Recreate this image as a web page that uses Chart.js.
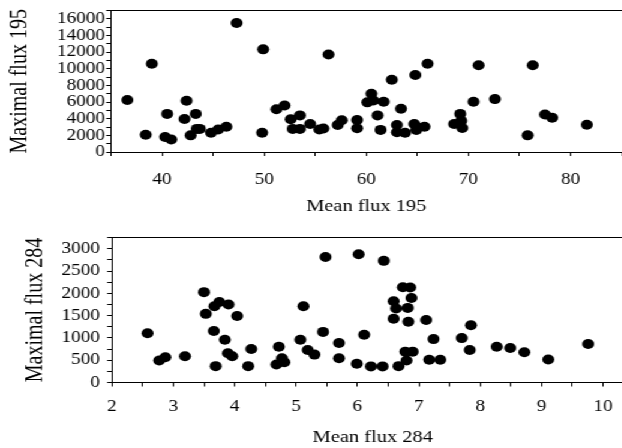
<!DOCTYPE html>
<html>
<head>
<meta charset="utf-8">
<script src="https://cdn.jsdelivr.net/npm/chart.js@4"></script>
<style>
  html, body { margin: 0; padding: 0; background: #fff; }
  body { width: 622px; height: 448px; overflow: hidden; position: relative; }
  /* the source figure is stretched horizontally, so stretch the canvases too */
  #wrap { position: absolute; left: 0; top: 0; transform: scaleX(1.2); transform-origin: 0 0; }
  canvas { display: block; }
</style>
</head>
<body>
<div id="wrap">
  <canvas id="chart195" width="532" height="222"></canvas>
  <canvas id="chart284" width="539" height="226"></canvas>
</div>
<script>
// Mean flux 195 vs maximal flux 195
const meanFlux195 = [36.6, 39.0, 38.4, 40.5, 40.3, 40.9, 42.4, 42.2, 43.3, 42.8,
  43.4, 43.7, 44.8, 45.5, 46.3, 47.3, 49.9, 49.8, 51.2, 52.0,
  52.6, 53.5, 52.8, 53.5, 54.5, 55.4, 55.8, 56.3, 57.2, 57.6,
  59.1, 59.1, 60.1, 60.5, 60.7, 61.1, 61.7, 61.4, 62.5, 63.4,
  63.0, 63.0, 63.8, 64.8, 66.0, 64.7, 65.0, 65.7, 64.9, 68.6,
  69.2, 69.3, 69.4, 70.5, 71.0, 72.6, 76.3, 75.8, 77.5, 78.2, 81.6];
const maxFlux195 = [6250, 10600, 2080, 4580, 1800, 1500, 6170, 3970, 4580, 2000,
  2780, 2780, 2310, 2700, 3040, 15500, 12340, 2310, 5130, 5590,
  3930, 4400, 2780, 2780, 3360, 2700, 2820, 11720, 3240, 3820,
  3850, 2850, 5970, 7010, 6200, 4400, 6050, 2660, 8680, 5210,
  3240, 2380, 2310, 9260, 10600, 3360, 2960, 3040, 2660, 3360,
  4580, 3740, 2890, 6050, 10420, 6360, 10420, 2000, 4510, 4120, 3280];

// Mean flux 284 vs maximal flux 284
const meanFlux284 = [2.58, 2.77, 2.87, 3.19, 3.50, 3.53, 3.67, 3.75, 3.90, 4.04,
  3.66, 3.84, 3.69, 3.89, 3.96, 4.27, 4.22, 4.68, 4.72, 4.77,
  4.81, 5.07, 5.12, 5.19, 5.30, 5.44, 5.48, 5.70, 5.70, 6.02,
  6.11, 5.99, 6.22, 6.41, 6.43, 6.74, 6.86, 6.88, 6.59, 6.63,
  6.82, 6.59, 6.83, 7.12, 6.78, 6.90, 6.80, 6.67, 7.24, 7.17,
  7.35, 7.70, 7.85, 7.83, 8.27, 8.49, 8.72, 9.11, 9.76];
const maxFlux284 = [1106, 493, 566, 589, 2027, 1540, 1710, 1805, 1748, 1490,
  1157, 958, 367, 655, 589, 752, 367, 405, 803, 545,
  456, 958, 1710, 730, 626, 1135, 2816, 885, 545, 2876,
  1069, 420, 361, 361, 2728, 2137, 2130, 1894, 1821, 1659,
  1673, 1429, 1363, 1400, 692, 692, 493, 367, 973, 509,
  509, 996, 1283, 730, 803, 774, 677, 515, 863];

// labelled ticks (the other ticks are unlabelled minor ticks)
const xLabels195 = [40, 50, 60, 70, 80];
const yLabels195 = [0, 2000, 4000, 6000, 8000, 10000, 12000, 14000, 16000];
const xLabels284 = [2, 3, 4, 5, 6, 7, 8, 9, 10];
const yLabels284 = [0, 500, 1000, 1500, 2000, 2500, 3000];

const ink = '#000';
const fontFamily = '"Liberation Serif", "Times New Roman", serif';

function makeScatter(canvasId, cfg) {
    const points = cfg.xs.map((x, i) => ({ x: x, y: cfg.ys[i] }));
    return new Chart(document.getElementById(canvasId), {
        type: 'scatter',
        data: {
            datasets: [{
                data: points,
                backgroundColor: '#000',
                borderWidth: 0,
                pointRadius: 5,
                pointHoverRadius: 5
            }]
        },
        options: {
            responsive: false,
            animation: false,
            devicePixelRatio: 1,
            layout: { padding: { top: cfg.padTop, right: 3, bottom: cfg.padBottom, left: 0 } },
            plugins: { legend: { display: false }, tooltip: { enabled: false } },
            scales: {
                x: {
                    type: 'linear',
                    position: 'bottom',
                    min: cfg.xMin, max: cfg.xMax,
                    afterFit: (axis) => { axis.height = cfg.xAxisHeight; },
                    ticks: {
                        stepSize: cfg.xStep,
                        autoSkip: false,
                        maxRotation: 0,
                        padding: cfg.xTickPad,
                        color: ink,
                        font: { family: fontFamily, size: 16 },
                        callback: (v) => cfg.xLabels.includes(v) ? String(v) : ''
                    },
                    grid: { drawOnChartArea: false, tickLength: 4, color: ink },
                    border: { color: ink, width: 1 },
                    title: {
                        display: true,
                        text: cfg.xTitle,
                        color: ink,
                        font: { family: fontFamily, size: 17 },
                        padding: { top: 0, bottom: 0 }
                    }
                },
                xTop: {
                    type: 'linear',
                    position: 'top',
                    afterFit: (axis) => { axis.height = 0; },
                    ticks: { display: false },
                    grid: { display: false },
                    border: { display: true, color: ink, width: 1 }
                },
                y: {
                    min: 0, max: cfg.yMax,
                    afterFit: (axis) => { axis.width = cfg.yAxisWidth; },
                    ticks: {
                        stepSize: cfg.yStep,
                        autoSkip: false,
                        padding: cfg.yTickPad,
                        color: ink,
                        font: { family: fontFamily, size: 16 },
                        callback: (v) => cfg.yLabels.includes(v) ? String(v) : ''
                    },
                    grid: { drawOnChartArea: false, tickLength: 4, color: ink },
                    border: { color: ink, width: 1 },
                    title: {
                        display: true,
                        text: cfg.yTitle,
                        color: ink,
                        font: { family: fontFamily, size: 20 },
                        padding: { top: cfg.yTitlePad, bottom: 0 }
                    }
                }
            }
        }
    });
}

makeScatter('chart195', {
    xs: meanFlux195, ys: maxFlux195,
    xMin: 35, xMax: 85, xStep: 5, xLabels: xLabels195,
    yMax: 17000, yStep: 1000, yLabels: yLabels195,
    xTitle: 'Mean flux 195', yTitle: 'Maximal flux 195',
    padTop: 5, padBottom: 5,
    xAxisHeight: 65, yAxisWidth: 92.5,
    xTickPad: 14, yTickPad: 1, yTitlePad: 5
});

makeScatter('chart284', {
    xs: meanFlux284, ys: maxFlux284,
    xMin: 2, xMax: 10.5, xStep: 0.5, xLabels: xLabels284,
    yMax: 3250, yStep: 250, yLabels: yLabels284,
    xTitle: 'Mean flux 284', yTitle: 'Maximal flux 284',
    padTop: 13, padBottom: 0,
    xAxisHeight: 65.5, yAxisWidth: 93.3,
    xTickPad: 11, yTickPad: 6, yTitlePad: 18
});
</script>
</body>
</html>
